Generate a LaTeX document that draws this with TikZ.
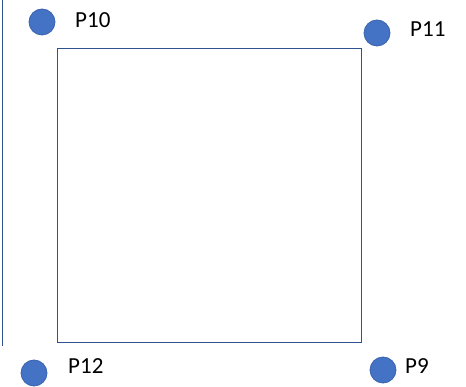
\documentclass[tikz,border=0pt]{standalone}
\usepackage{fontspec}
\setmainfont{Carlito}
\definecolor{ptfill}{HTML}{4472C4}
\definecolor{ptedge}{HTML}{3A63AD}
\definecolor{boxedge}{HTML}{2F528F}
\begin{document}
\begin{tikzpicture}[x=1pt,y=-1pt,
  pt/.style={circle,fill=ptfill,draw=ptedge,line width=0.8pt,minimum size=26pt,inner sep=0pt},
  lbl/.style={font=\fontsize{23}{23}\selectfont,inner sep=0pt,anchor=west},
  frame/.style={draw=boxedge,line width=1.3pt}]
  \useasboundingbox (0,0) rectangle (466,387);
  % left rule
  \coordinate (ruletop) at (2.5,0);
  \coordinate (rulebot) at (2.5,346);
  \draw[frame] (ruletop) -- (rulebot);
  % square
  \node[frame,minimum width=304pt,minimum height=294pt,inner sep=0pt,anchor=north west] (sq) at (57,48) {};
  % corner points
  \node[pt] (p10) at (42,22) {};
  \node[pt] (p11) at (377,33) {};
  \node[pt] (p12) at (34,373) {};
  \node[pt] (p9) at (383,370) {};
  \node[lbl] (l10) at (75,20) {P10};
  \node[lbl] (l11) at (410,29) {P11};
  \node[lbl] (l12) at (68,366) {P12};
  \node[lbl] (l9) at (405,366) {P9};
\end{tikzpicture}
\end{document}
